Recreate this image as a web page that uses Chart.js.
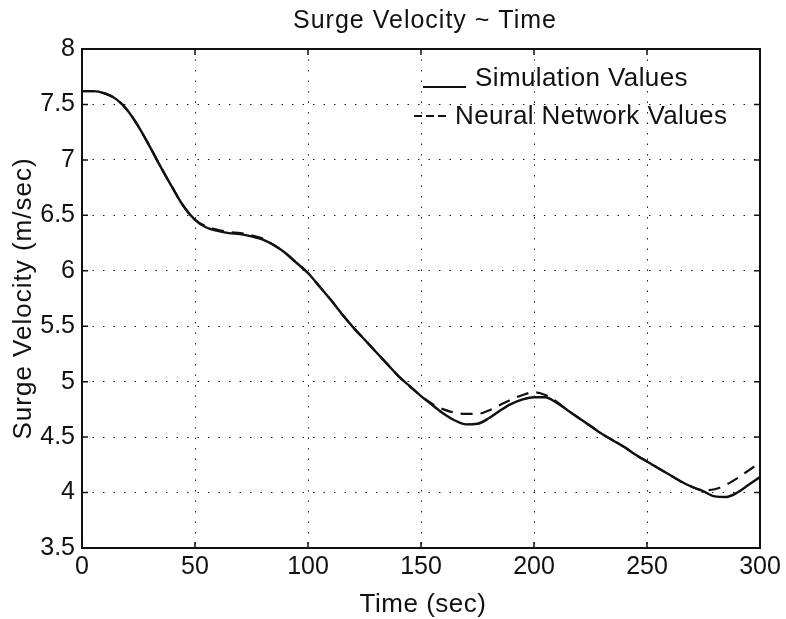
<!DOCTYPE html>
<html>
<head>
<meta charset="utf-8">
<script src="https://cdn.jsdelivr.net/npm/chart.js@4.4.1/dist/chart.umd.min.js"></script>
<style>
html,body{margin:0;padding:0;background:#fff;}
#wrap{width:786px;height:619px;position:relative;}
</style>
</head>
<body>
<div id="wrap"><canvas id="c" width="786" height="619"></canvas></div>
<script>
const timeSec = [0,5,10,15,20,25,30,35,40,45,50,55,60,65,70,75,80,85,90,95,100,105,110,115,120,125,130,135,140,145,150,155,160,165,170,175,180,185,190,195,200,205,210,215,220,225,230,235,240,245,250,255,260,265,270,275,280,285,290,295,300];
const simulationValues = [7.62,7.62,7.60,7.55,7.45,7.30,7.12,6.93,6.75,6.58,6.46,6.39,6.36,6.34,6.33,6.31,6.28,6.23,6.16,6.07,5.98,5.86,5.74,5.61,5.49,5.38,5.27,5.16,5.05,4.96,4.87,4.79,4.71,4.65,4.615,4.62,4.67,4.74,4.80,4.84,4.86,4.86,4.81,4.74,4.67,4.60,4.53,4.47,4.41,4.34,4.28,4.22,4.16,4.10,4.05,4.01,3.965,3.96,4.00,4.07,4.14];
const neuralValues = [7.62,7.62,7.60,7.55,7.45,7.30,7.12,6.93,6.75,6.58,6.46,6.40,6.37,6.35,6.34,6.32,6.29,6.23,6.16,6.07,5.98,5.86,5.74,5.61,5.49,5.38,5.27,5.16,5.05,4.96,4.87,4.80,4.75,4.72,4.71,4.71,4.74,4.79,4.84,4.88,4.905,4.88,4.82,4.74,4.67,4.60,4.53,4.47,4.41,4.34,4.28,4.22,4.16,4.10,4.05,4.02,4.03,4.07,4.13,4.20,4.27];
const xTicks = [0,50,100,150,200,250,300];
const yTicks = [3.5,4,4.5,5,5.5,6,6.5,7,7.5,8];
const titleText = "Surge Velocity ~ Time";
const xTitle = "Time (sec)";
const yTitle = "Surge Velocity (m/sec)";
const legendLabels = ["Simulation Values","Neural Network Values"];

const FONT = "'Liberation Sans', Arial, Helvetica, sans-serif";

const framePlugin = {
  id:'frame',
  afterDraw(chart){
    const {ctx, chartArea:a, scales:{x,y}} = chart;
    ctx.save();
    ctx.strokeStyle='#111';
    ctx.lineWidth=2;
    ctx.strokeRect(a.left,a.top,a.right-a.left,a.bottom-a.top);
    ctx.lineWidth=1.5;
    const tl=6;
    xTicks.forEach(v=>{const px=x.getPixelForValue(v);
      ctx.beginPath();ctx.moveTo(px,a.bottom);ctx.lineTo(px,a.bottom-tl);ctx.moveTo(px,a.top);ctx.lineTo(px,a.top+tl);ctx.stroke();});
    yTicks.forEach(v=>{const py=y.getPixelForValue(v);
      ctx.beginPath();ctx.moveTo(a.left,py);ctx.lineTo(a.left+tl,py);ctx.moveTo(a.right,py);ctx.lineTo(a.right-tl,py);ctx.stroke();});
    ctx.fillStyle='#111';
    ctx.textAlign='center';ctx.textBaseline='alphabetic';
    // title
    ctx.font='25px '+FONT;
    ctx.letterSpacing='1px';
    ctx.fillText(titleText,(a.left+a.right)/2+4,28);
    // axis titles
    ctx.font='26px '+FONT;
    ctx.letterSpacing='0.5px';
    ctx.fillText(xTitle,(a.left+a.right)/2+2,612);
    ctx.save();
    ctx.translate(31,(a.top+a.bottom)/2);
    ctx.rotate(-Math.PI/2);
    ctx.letterSpacing='1px';
    ctx.fillText(yTitle,0,0);
    ctx.restore();
    // legend
    ctx.font='26px '+FONT;
    ctx.letterSpacing='0.4px';
    ctx.textAlign='left';
    ctx.fillText(legendLabels[0],475,86);
    ctx.fillText(legendLabels[1],455,124);
    ctx.lineWidth=2;
    ctx.beginPath();ctx.moveTo(423,87);ctx.lineTo(466,87);ctx.stroke();
    ctx.setLineDash([8,4]);
    ctx.beginPath();ctx.moveTo(414,116);ctx.lineTo(450,116);ctx.stroke();
    ctx.restore();
  }
};

const toPts = arr => arr.map((v,i)=>({x:timeSec[i],y:v}));

new Chart(document.getElementById('c'),{
  type:'line',
  data:{datasets:[
    {label:legendLabels[0],data:toPts(simulationValues),borderColor:'#111',borderWidth:2.4,pointRadius:0,cubicInterpolationMode:'monotone',fill:false},
    {label:legendLabels[1],data:toPts(neuralValues),borderColor:'#111',borderWidth:2.2,borderDash:[12,8],pointRadius:0,cubicInterpolationMode:'monotone',fill:false}
  ]},
  options:{
    responsive:false,animation:false,
    layout:{padding:{top:49,right:26,left:0,bottom:0}},
    plugins:{legend:{display:false},title:{display:false},tooltip:{enabled:false}},
    scales:{
      x:{type:'linear',min:0,max:300,
        afterBuildTicks(s){s.ticks=xTicks.map(v=>({value:v}));},
        afterFit(s){s.height=71;},
        grid:{color:'#222',lineWidth:1,drawTicks:false,tickLength:0},
        border:{display:false,dash:[1.5,9]},
        ticks:{color:'#111',font:{size:25,family:FONT},padding:4,maxRotation:0,autoSkip:false}
      },
      y:{type:'linear',min:3.5,max:8,
        afterBuildTicks(s){s.ticks=yTicks.map(v=>({value:v}));},
        afterFit(s){s.width=82;},
        grid:{color:'#222',lineWidth:1,drawTicks:false,tickLength:0},
        border:{display:false,dash:[1.5,9]},
        ticks:{color:'#111',font:{size:25,family:FONT},padding:7,autoSkip:false,callback:v=>String(v)}
      }
    }
  },
  plugins:[framePlugin]
});
</script>
</body>
</html>
